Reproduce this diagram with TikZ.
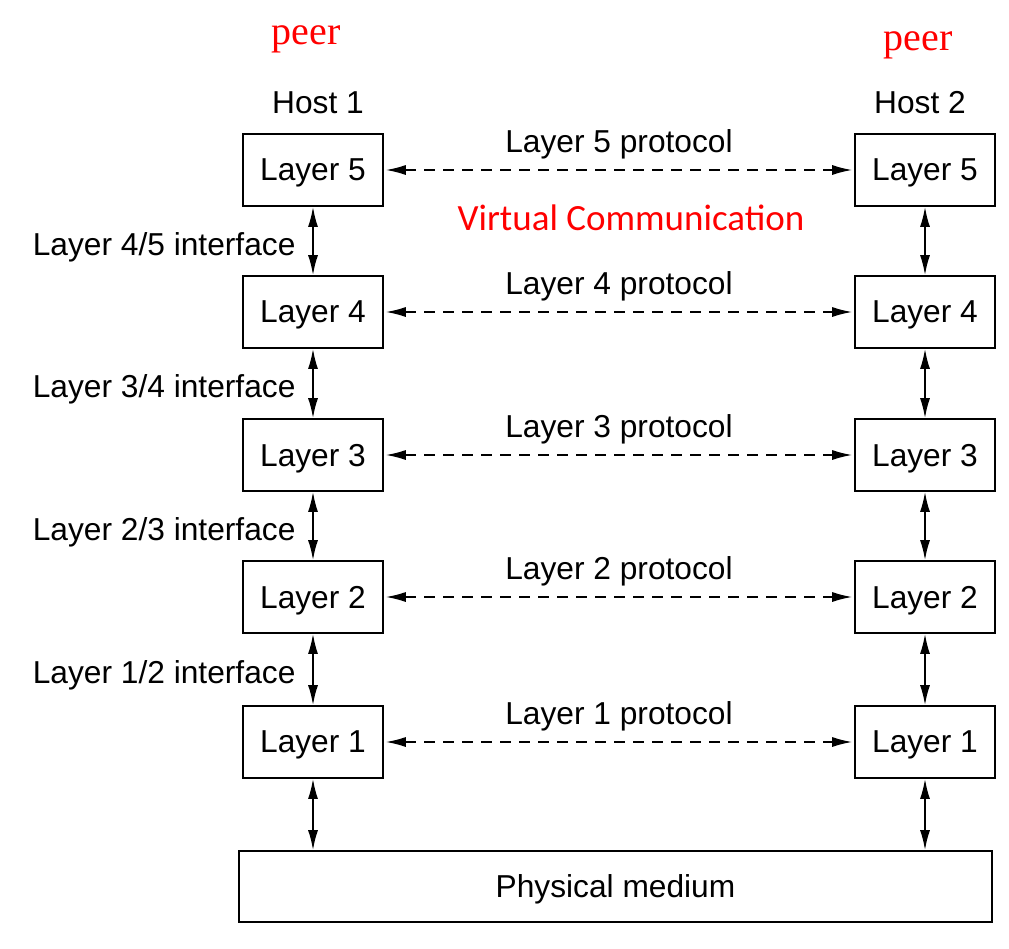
\documentclass[tikz,border=0pt]{standalone}
\usepackage{fontspec}
\setmainfont{Liberation Sans}
\newfontfamily\peerfont{Liberation Serif}
\newfontfamily\virtfont{Carlito}
\usetikzlibrary{arrows.meta}
\begin{document}
\begin{tikzpicture}[x=0.5pt, y=-0.5pt,
                    every node/.style={font=\fontsize{15.85}{18}\selectfont},
                    >={Latex[length=10pt,width=5pt]},
                    layer/.style={draw, line width=0.8pt, minimum width=70pt, minimum height=36pt, text depth=0pt},
                    proto/.style={<->, dash pattern=on 5.5pt off 4pt, line width=0.8pt, shorten <=1pt, shorten >=1pt},
                    updown/.style={<->, line width=0.9pt},
                    peer/.style={text=red, font=\peerfont\fontsize{20}{24}\selectfont}]
\useasboundingbox (0,0) rectangle (1009,949);
\node[peer] (p1) at (306,39) {peer};
\node[peer] (p2) at (918,45) {peer};
\node (h1) at (318,103) {Host 1};
\node (h2) at (920,103) {Host 2};
\foreach \i/\y in {5/170,4/312,3/455,2/597,1/742} {
    \node[layer] (a\i) at (313,\y) {Layer \i};
    \node[layer] (b\i) at (925,\y) {Layer \i};
    \draw[proto] (a\i) -- node[midway, yshift=12.8pt] {Layer \i\ protocol} (b\i);
}
\node[text=red, font=\virtfont\fontsize{18.5}{22}\selectfont] (virt) at (631,218) {Virtual Communication};
\foreach \i/\j in {5/4,4/3,3/2,2/1} {
    \draw[updown] (a\i) -- node[left=5pt, yshift=-3pt] {Layer \j/\i\ interface} (a\j);
    \draw[updown] (b\i) -- (b\j);
}
\node[layer, minimum width=376.5pt, minimum height=35.5pt] (phys) at (615.5,886.5) {Physical medium};
\draw[updown] (a1) -- (a1 |- phys.north);
\draw[updown] (b1) -- (b1 |- phys.north);
\end{tikzpicture}
\end{document}
